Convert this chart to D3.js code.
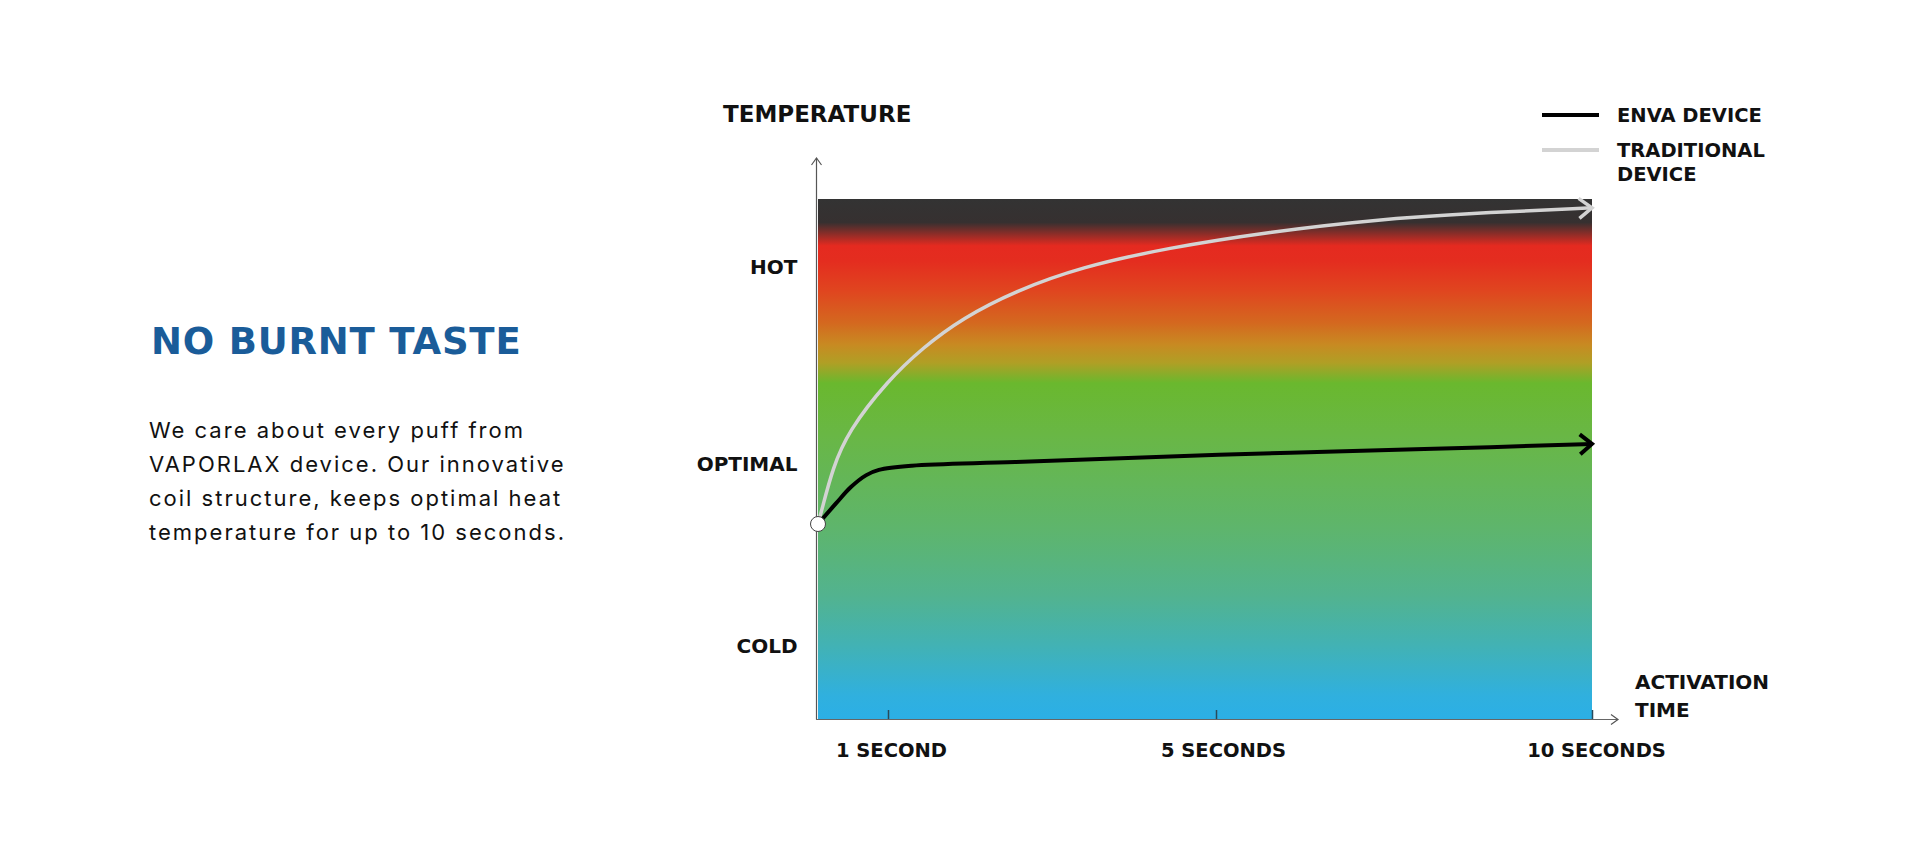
<!DOCTYPE html>
<html>
<head>
<meta charset="utf-8">
<script src="https://cdn.jsdelivr.net/npm/d3@7"></script>
<style>
  html, body { margin: 0; padding: 0; background: #ffffff; }
  svg { display: block; }
  text { font-family: "DejaVu Sans", "Liberation Sans", sans-serif; }
  .lbl { font-family: "DejaVu Sans", sans-serif; font-weight: 700; fill: #111; }
  .body { font-family: "Inter", "Liberation Sans", sans-serif; font-weight: 400; fill: #111; }
</style>
</head>
<body>
<svg id="chart" width="1920" height="864"></svg>
<script>
// ---------- DATA ----------
const xTickValues = [1, 5, 10];
const xTickLabels = ["1 SECOND", "5 SECONDS", "10 SECONDS"];
const yTickValues = [14, 49, 87];
const yTickLabels = ["COLD", "OPTIMAL", "HOT"];

const seriesNames = ["ENVA DEVICE", "TRADITIONAL DEVICE"];

const envaTime  = [0, 0.26, 0.47, 0.69, 0.87, 1.29, 2.55, 5.04, 7.77, 10];
const envaTemp  = [37.5, 41.5, 44.6, 46.9, 47.9, 48.7, 49.4, 50.8, 51.9, 52.9];

const tradTime  = [0, 0.06, 0.21, 0.43, 0.99, 1.43, 1.91, 2.55, 3.35, 4.41, 5.72, 7.09, 8.44, 10];
const tradTemp  = [37.5, 40.5, 48.2, 55.3, 65.0, 71.5, 77.1, 82.3, 86.9, 90.6, 93.7, 96.0, 97.3, 98.3];

const titleText = "NO BURNT TASTE";
const bodyLines = [
  "We care about every puff from",
  "VAPORLAX device. Our innovative",
  "coil structure, keeps optimal heat",
  "temperature for up to 10 seconds."
];

// ---------- SETUP ----------
const svg = d3.select("#chart");
const x = d3.scaleLinear().domain([0, 1, 5, 10]).range([818, 888, 1216, 1592]);
const y = d3.scaleLinear().domain([0, 100]).range([719, 199]);

const defs = svg.append("defs");
const grad = defs.append("linearGradient")
  .attr("id", "tempGrad").attr("x1", 0).attr("y1", 0).attr("x2", 0).attr("y2", 1);
[
  [0.00, "#333333"], [0.045, "#363030"], [0.09, "#e52a20"], [0.12, "#e42d1f"],
  [0.176, "#e0451f"], [0.238, "#d4681f"], [0.28, "#c88a22"], [0.315, "#b09f25"],
  [0.354, "#6ab82e"], [0.454, "#69b745"], [0.633, "#5eb56c"], [0.762, "#52b38f"],
  [0.858, "#42b2b4"], [0.954, "#30b0de"], [1.00, "#2bafe6"]
].forEach(([o, c]) => grad.append("stop").attr("offset", o).attr("stop-color", c));

function chevron(id, color, back, half, sw) {
  const m = defs.append("marker")
    .attr("id", id)
    .attr("markerUnits", "userSpaceOnUse")
    .attr("markerWidth", back + sw * 2 + 4)
    .attr("markerHeight", half * 2 + sw * 2 + 4)
    .attr("refX", back + sw)
    .attr("refY", half + sw)
    .attr("orient", "auto")
    .style("overflow", "visible");
  m.append("path")
    .attr("d", `M${sw},${sw} L${back + sw},${half + sw} L${sw},${half * 2 + sw}`)
    .attr("fill", "none").attr("stroke", color).attr("stroke-width", sw)
    .attr("stroke-linejoin", "miter");
}
chevron("arrGray", "#d3d3d3", 13, 10, 3.5);
chevron("arrBlack", "#000000", 12, 10, 4);
chevron("arrAxis", "#555555", 7, 5, 1.2);

// ---------- BACKGROUND GRADIENT ----------
svg.append("rect")
  .attr("x", x(0)).attr("y", y(100))
  .attr("width", x(10) - x(0)).attr("height", y(0) - y(100))
  .attr("fill", "url(#tempGrad)");

// ---------- AXES ----------
const xAxis = d3.axisBottom(x).tickValues(xTickValues)
  .tickFormat((d, i) => xTickLabels[i]).tickSize(-9).tickPadding(0);
const gx = svg.append("g").attr("transform", `translate(0,${y(0)})`).call(xAxis);
gx.select(".domain").remove();
gx.selectAll(".tick line").attr("stroke", "#2a4a5a").attr("stroke-width", 1.5);
gx.selectAll(".tick text")
  .attr("class", "lbl")
  .attr("y", 38).attr("dy", null)
  .attr("font-size", 19.5).attr("font-family", null)
  .attr("dx", (d, i) => i === 0 ? 3 : (i === 1 ? 7 : 4));

const yAxis = d3.axisLeft(y).tickValues(yTickValues)
  .tickFormat((d, i) => yTickLabels[i]).tickSize(0).tickPadding(19);
const gy = svg.append("g").attr("transform", `translate(${x(0) - 1.5},0)`).call(yAxis);
gy.select(".domain").remove();
gy.selectAll(".tick text")
  .attr("class", "lbl")
  .attr("font-size", 20).attr("font-family", null);

// axis lines with arrows
svg.append("line")
  .attr("x1", x(0) - 1.5).attr("y1", y(0) + 0.5)
  .attr("x2", x(0) - 1.5).attr("y2", y(100) - 41)
  .attr("stroke", "#555").attr("stroke-width", 1.2)
  .attr("marker-end", "url(#arrAxis)");
svg.append("line")
  .attr("x1", x(0) - 2).attr("y1", y(0) + 0.5)
  .attr("x2", x(10) + 26).attr("y2", y(0) + 0.5)
  .attr("stroke", "#666").attr("stroke-width", 1.2)
  .attr("marker-end", "url(#arrAxis)");

// ---------- LINES ----------
const lineSmooth = d3.line().x(d => x(d[0])).y(d => y(d[1])).curve(d3.curveBasis);
const lineKnee = d3.line().x(d => x(d[0])).y(d => y(d[1])).curve(d3.curveCatmullRom.alpha(0.5));

svg.append("path")
  .datum(d3.zip(tradTime, tradTemp))
  .attr("d", lineSmooth)
  .attr("fill", "none").attr("stroke", "#d3d3d3").attr("stroke-width", 3.5)
  .attr("marker-end", "url(#arrGray)");

svg.append("path")
  .datum(d3.zip(envaTime, envaTemp))
  .attr("d", lineKnee)
  .attr("fill", "none").attr("stroke", "#000").attr("stroke-width", 4)
  .attr("marker-end", "url(#arrBlack)");

svg.append("circle")
  .attr("cx", x(envaTime[0])).attr("cy", y(envaTemp[0])).attr("r", 7.5)
  .attr("fill", "#fff").attr("stroke", "#444").attr("stroke-width", 1);

// ---------- AXIS TITLES ----------
svg.append("text").attr("class", "lbl").attr("x", 723).attr("y", 122)
  .attr("font-size", 23)
  .text("TEMPERATURE");
const at = svg.append("text").attr("class", "lbl").attr("x", 1635).attr("y", 689)
  .attr("font-size", 20);
at.append("tspan").attr("x", 1635).text("ACTIVATION");
at.append("tspan").attr("x", 1635).attr("dy", 28).text("TIME");

// ---------- LEGEND ----------
const legend = svg.append("g");
legend.append("line").attr("x1", 1542).attr("x2", 1599).attr("y1", 115).attr("y2", 115)
  .attr("stroke", "#000").attr("stroke-width", 4);
legend.append("line").attr("x1", 1542).attr("x2", 1599).attr("y1", 150).attr("y2", 150)
  .attr("stroke", "#d3d3d3").attr("stroke-width", 4);
legend.append("text").attr("class", "lbl").attr("x", 1617).attr("y", 122)
  .attr("font-size", 19.5)
  .text(seriesNames[0]);
const lt = legend.append("text").attr("class", "lbl").attr("x", 1617).attr("y", 157)
  .attr("font-size", 19.5);
const parts = seriesNames[1].split(" ");
lt.append("tspan").attr("x", 1617).text(parts[0]);
lt.append("tspan").attr("x", 1617).attr("dy", 24).text(parts[1]);

// ---------- LEFT TEXT ----------
svg.append("text").attr("class", "lbl").attr("x", 151).attr("y", 354)
  .attr("font-size", 37).attr("letter-spacing", 0.8).style("fill", "#1a5c99")
  .text(titleText);
const body = svg.append("text").attr("class", "body").attr("x", 149).attr("y", 438)
  .attr("font-size", 22).attr("letter-spacing", 2.0);
bodyLines.forEach((l, i) => body.append("tspan").attr("x", 149).attr("dy", i === 0 ? 0 : 34).text(l));
</script>
</body>
</html>
